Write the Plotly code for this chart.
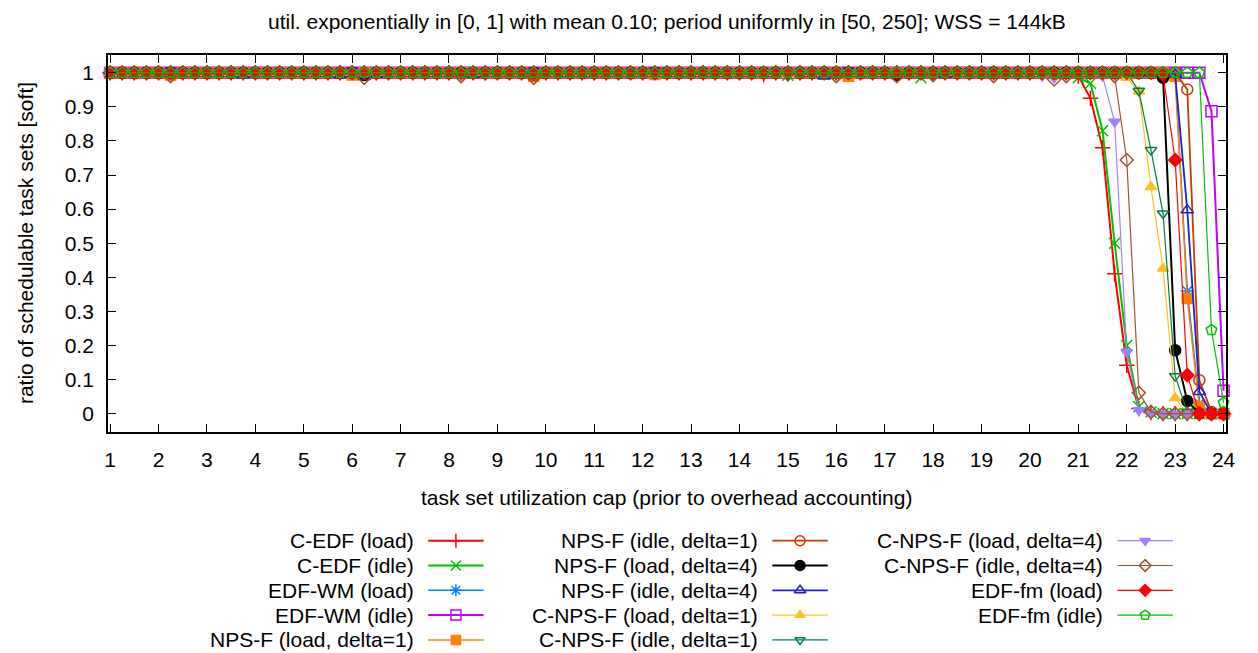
import plotly.graph_objects as go

W, H = 1258, 653

# ---------------- data ----------------
util_cap = [
    1.0, 1.25, 1.5, 1.75, 2.0, 2.25, 2.5, 2.75, 3.0, 3.25,
    3.5, 3.75, 4.0, 4.25, 4.5, 4.75, 5.0, 5.25, 5.5, 5.75,
    6.0, 6.25, 6.5, 6.75, 7.0, 7.25, 7.5, 7.75, 8.0, 8.25,
    8.5, 8.75, 9.0, 9.25, 9.5, 9.75, 10.0, 10.25, 10.5, 10.75,
    11.0, 11.25, 11.5, 11.75, 12.0, 12.25, 12.5, 12.75, 13.0, 13.25,
    13.5, 13.75, 14.0, 14.25, 14.5, 14.75, 15.0, 15.25, 15.5, 15.75,
    16.0, 16.25, 16.5, 16.75, 17.0, 17.25, 17.5, 17.75, 18.0, 18.25,
    18.5, 18.75, 19.0, 19.25, 19.5, 19.75, 20.0, 20.25, 20.5, 20.75,
    21.0, 21.25, 21.5, 21.75, 22.0, 22.25, 22.5, 22.75, 23.0, 23.25,
    23.5, 23.75, 24.0]

cedf_load = [
    1, 1, 1, 1, 1, 1, 1, 1, 1, 1,
    1, 1, 1, 1, 1, 1, 1, 1, 1, 1,
    1, 1, 1, 1, 1, 1, 1, 1, 1, 1,
    1, 1, 1, 1, 1, 1, 1, 1, 1, 1,
    1, 1, 1, 1, 1, 1, 1, 1, 1, 1,
    1, 1, 1, 1, 0.995, 1, 1, 1, 1, 1,
    1, 1, 1, 1, 1, 1, 1, 1, 1, 1,
    1, 1, 1, 1, 1, 1, 1, 1, 1, 1,
    0.99, 0.925, 0.78, 0.41, 0.142, 0.015, 0.003, 0, 0, 0,
    0, 0, 0]

cedf_idle = [
    1, 1, 1, 1, 1, 1, 1, 1, 1, 1,
    1, 1, 1, 1, 1, 1, 1, 1, 1, 1,
    1, 1, 1, 1, 1, 1, 1, 1, 1, 1,
    1, 1, 1, 1, 1, 1, 1, 1, 1, 1,
    1, 1, 1, 1, 1, 1, 1, 1, 1, 1,
    1, 1, 1, 1, 1, 1, 0.993, 1, 1, 1,
    1, 1, 1, 1, 1, 1, 1, 0.985, 1, 1,
    1, 1, 1, 1, 1, 1, 1, 1, 1, 1,
    0.985, 0.969, 0.83, 0.50, 0.20, 0.02, 0.005, 0, 0, 0,
    0, 0, 0]

edfwm_load = [
    1, 1, 1, 1, 1, 1, 1, 1, 1, 1,
    1, 1, 1, 1, 1, 1, 1, 1, 1, 1,
    1, 1, 1, 1, 1, 1, 1, 1, 1, 1,
    1, 1, 1, 1, 1, 1, 1, 1, 1, 1,
    1, 1, 1, 1, 1, 1, 1, 1, 1, 1,
    1, 1, 1, 1, 1, 1, 1, 1, 1, 1,
    1, 1, 1, 1, 1, 1, 1, 1, 1, 1,
    1, 1, 1, 1, 1, 1, 1, 1, 1, 1,
    1, 1, 1, 1, 1, 1, 1, 1, 0.995, 0.36,
    0.03, 0, 0]

edfwm_idle = [
    1, 1, 1, 1, 1, 1, 1, 1, 1, 1,
    1, 1, 1, 1, 1, 1, 1, 1, 1, 1,
    1, 1, 1, 1, 1, 1, 1, 1, 1, 1,
    1, 1, 1, 1, 1, 1, 1, 1, 1, 1,
    1, 1, 1, 1, 1, 1, 1, 1, 1, 1,
    1, 1, 1, 1, 1, 1, 1, 1, 1, 1,
    1, 1, 1, 1, 1, 1, 1, 1, 1, 1,
    1, 1, 1, 1, 1, 1, 1, 1, 1, 1,
    1, 1, 1, 1, 1, 1, 1, 1, 1, 1,
    1, 0.887, 0.067]

npsf_load_d1 = [
    1, 1, 1, 1, 1, 0.993, 1, 1, 1, 1,
    1, 1, 1, 1, 1, 1, 1, 1, 1, 1,
    0.993, 1, 1, 1, 1, 1, 1, 1, 1, 1,
    1, 1, 1, 1, 1, 0.99, 1, 1, 1, 1,
    1, 1, 1, 1, 1, 0.995, 1, 1, 1, 1,
    1, 1, 1, 1, 1, 1, 1, 1, 1, 1,
    1, 0.99, 1, 1, 1, 1, 1, 1, 1, 1,
    1, 1, 1, 1, 1, 1, 1, 1, 1, 1,
    1, 1, 1, 1, 1, 1, 1, 1, 0.99, 0.338,
    0.02, 0, 0]

npsf_idle_d1 = [
    1, 1, 1, 1, 1, 1, 1, 1, 1, 1,
    1, 1, 1, 1, 1, 1, 1, 1, 1, 1,
    1, 1, 1, 1, 1, 1, 1, 1, 1, 1,
    1, 1, 1, 1, 1, 0.993, 1, 1, 1, 1,
    1, 1, 1, 1, 1, 1, 1, 1, 1, 1,
    1, 1, 1, 1, 1, 1, 1, 1, 1, 1,
    1, 1, 1, 1, 1, 1, 1, 1, 1, 1,
    1, 1, 1, 1, 1, 1, 1, 1, 1, 1,
    1, 1, 1, 1, 1, 1, 1, 1, 1, 0.951,
    0.098, 0.005, 0]

npsf_load_d4 = [
    1, 1, 1, 1, 1, 1, 1, 1, 1, 1,
    1, 1, 1, 1, 1, 1, 1, 1, 1, 1,
    1, 0.993, 1, 1, 1, 1, 1, 1, 1, 1,
    1, 1, 1, 1, 1, 1, 1, 1, 1, 1,
    1, 1, 1, 1, 1, 1, 1, 1, 1, 1,
    1, 1, 1, 1, 1, 1, 1, 1, 1, 1,
    1, 1, 1, 1, 1, 0.993, 1, 1, 1, 1,
    1, 1, 1, 1, 1, 1, 1, 1, 1, 1,
    1, 1, 1, 1, 1, 1, 1, 0.985, 0.186, 0.037,
    0, 0, 0]

npsf_idle_d4 = [
    1, 1, 1, 1, 1, 1, 1, 1, 1, 1,
    1, 0.993, 1, 1, 1, 1, 1, 1, 1, 0.993,
    1, 0.988, 0.995, 1, 1, 1, 1, 1, 1, 1,
    0.995, 1, 1, 1, 1, 1, 1, 1, 1, 1,
    1, 1, 1, 1, 1, 1, 1, 1, 1, 1,
    1, 1, 1, 1, 1, 1, 1, 1, 1, 0.99,
    1, 1, 1, 1, 1, 1, 1, 1, 1, 0.995,
    1, 1, 1, 1, 1, 1, 1, 1, 1, 1,
    1, 1, 1, 1, 1, 1, 1, 1, 0.995, 0.597,
    0.064, 0, 0]

cnpsf_load_d1 = [
    1, 1, 1, 1, 1, 1, 1, 1, 1, 1,
    1, 1, 1, 1, 1, 1, 1, 1, 1, 1,
    1, 1, 1, 1, 1, 1, 1, 1, 1, 1,
    1, 1, 1, 1, 1, 1, 1, 1, 1, 1,
    1, 1, 1, 1, 1, 1, 1, 1, 1, 1,
    1, 1, 1, 1, 1, 1, 0.995, 1, 1, 1,
    1, 1, 1, 1, 1, 1, 1, 1, 1, 1,
    1, 1, 1, 1, 1, 1, 1, 1, 1, 1,
    1, 1, 1, 1, 0.985, 0.945, 0.665, 0.426, 0.045, 0,
    0, 0, 0]

cnpsf_idle_d1 = [
    1, 1, 1, 1, 1, 1, 1, 1, 1, 1,
    1, 1, 1, 1, 1, 1, 1, 1, 1, 1,
    1, 1, 1, 1, 1, 1, 1, 1, 1, 1,
    1, 1, 1, 1, 1, 1, 1, 1, 1, 1,
    1, 1, 1, 1, 1, 1, 1, 1, 1, 1,
    1, 1, 1, 1, 1, 1, 0.99, 1, 1, 1,
    1, 1, 1, 1, 1, 1, 1, 1, 1, 1,
    1, 1, 1, 1, 1, 1, 1, 1, 1, 1,
    1, 1, 1, 1, 1, 0.947, 0.773, 0.587, 0.11, 0.005,
    0, 0, 0]

cnpsf_load_d4 = [
    1, 1, 1, 1, 1, 1, 1, 1, 1, 1,
    1, 1, 1, 1, 1, 1, 0.995, 1, 1, 1,
    1, 1, 1, 1, 1, 1, 1, 1, 1, 0.993,
    1, 0.993, 1, 1, 1, 1, 1, 1, 1, 1,
    0.993, 1, 1, 1, 1, 1, 1, 1, 1, 1,
    1, 1, 1, 1, 1, 1, 1, 1, 1, 1,
    1, 1, 1, 0.995, 1, 1, 0.995, 1, 1, 1,
    1, 1, 1, 1, 1, 1, 1, 0.99, 0.985, 1,
    1, 1, 0.99, 0.856, 0.181, 0.01, 0, 0, 0, 0,
    0, 0, 0]

cnpsf_idle_d4 = [
    1, 1, 1, 1, 1, 0.99, 1, 1, 1, 1,
    1, 1, 1, 1, 1, 1, 1, 1, 1, 1,
    1, 0.985, 1, 1, 1, 1, 1, 1, 1, 0.99,
    1, 1, 1, 1, 1, 0.985, 1, 1, 1, 1,
    1, 1, 1, 1, 1, 1, 1, 1, 1, 1,
    1, 1, 1, 1, 1, 1, 1, 1, 1, 1,
    0.99, 1, 1, 1, 1, 0.99, 1, 1, 0.993, 1,
    1, 1, 1, 0.99, 1, 1, 1, 1, 0.98, 0.99,
    1, 1, 1, 0.99, 0.744, 0.061, 0.005, 0, 0, 0,
    0, 0, 0]

edffm_load = [
    1, 1, 1, 1, 1, 1, 1, 1, 1, 1,
    1, 1, 1, 1, 1, 1, 1, 1, 1, 1,
    1, 1, 1, 1, 1, 1, 1, 1, 1, 1,
    1, 1, 1, 1, 1, 1, 1, 1, 1, 1,
    1, 1, 1, 1, 1, 1, 1, 1, 1, 1,
    1, 1, 1, 1, 1, 1, 1, 1, 1, 1,
    1, 1, 1, 1, 1, 1, 1, 1, 1, 1,
    1, 1, 1, 1, 1, 1, 1, 1, 1, 1,
    1, 1, 1, 1, 1, 1, 1, 0.995, 0.744, 0.113,
    0, 0, 0]

edffm_idle = [
    1, 1, 1, 1, 1, 1, 1, 1, 1, 1,
    1, 1, 1, 1, 1, 1, 1, 1, 1, 1,
    1, 1, 1, 1, 1, 1, 1, 1, 1, 1,
    1, 1, 1, 1, 1, 1, 1, 1, 1, 1,
    1, 1, 1, 1, 1, 1, 1, 1, 1, 1,
    1, 1, 1, 1, 1, 1, 1, 1, 1, 1,
    1, 1, 1, 1, 1, 1, 1, 1, 1, 1,
    1, 1, 1, 1, 1, 1, 1, 1, 1, 1,
    1, 1, 1, 1, 1, 1, 1, 1, 1, 1,
    1, 0.245, 0.032]

series_names = [
    "C-EDF (load)", "C-EDF (idle)", "EDF-WM (load)", "EDF-WM (idle)",
    "NPS-F (load, delta=1)", "NPS-F (idle, delta=1)", "NPS-F (load, delta=4)",
    "NPS-F (idle, delta=4)", "C-NPS-F (load, delta=1)", "C-NPS-F (idle, delta=1)",
    "C-NPS-F (load, delta=4)", "C-NPS-F (idle, delta=4)", "EDF-fm (load)", "EDF-fm (idle)",
]
series_values = [
    cedf_load, cedf_idle, edfwm_load, edfwm_idle,
    npsf_load_d1, npsf_idle_d1, npsf_load_d4, npsf_idle_d4,
    cnpsf_load_d1, cnpsf_idle_d1, cnpsf_load_d4, cnpsf_idle_d4,
    edffm_load, edffm_idle,
]

y_ticks = [0, 0.1, 0.2, 0.3, 0.4, 0.5, 0.6, 0.7, 0.8, 0.9, 1]
x_ticks = list(range(1, 25))

# ---------------- styles ----------------
colors = ["#FF0000", "#00C000", "#0080FF", "#C000FF", "#FF8000", "#C04000", "#000000",
          "#2020C8", "#FFC020", "#008040", "#A080FF", "#A0522D", "#FF0000", "#00C000"]
symbols = ["cross-thin-open", "x-thin-open", "asterisk-open", "square-open", "square",
           "circle-open", "circle", "triangle-up-open", "triangle-up", "triangle-down-open",
           "triangle-down", "diamond-open", "diamond", "pentagon-open"]
msizes = [11, 11, 11, 11, 10, 11, 11, 11, 10, 10, 10, 10, 10, 11]
lwidths = [2, 2, 1.5, 2, 1.5, 1.8, 2, 1.8, 1.2, 1.2, 1.2, 1.2, 1.2, 1.2]

FONT = "Liberation Sans, Arial, sans-serif"
FS = 21

# plot area in pixels
PL, PR, PT, PB = 105, 1235.5, 55, 431.7

fig = go.Figure()
for name, vals, c, s, ms, lw in zip(series_names, series_values, colors, symbols, msizes, lwidths):
    fig.add_trace(go.Scatter(
        x=util_cap, y=vals, name=name, mode="lines+markers",
        line=dict(color=c, width=lw),
        marker=dict(symbol=s, size=ms, color=c, line=dict(color=c, width=1.5)),
        showlegend=False, cliponaxis=False,
    ))

# ---------------- manual gnuplot-style key ----------------
col_text_right = [417, 764, 1113]
col_line = [(429, 485), (777, 833), (1126, 1182)]
row_y = [540.7, 565.5, 590.3, 615.1, 639.9]
entries_per_col = [5, 5, 4]

idx = 0
annotations = []
for ci, n in enumerate(entries_per_col):
    for ri in range(n):
        name = series_names[idx]
        c, s, ms, lw = colors[idx], symbols[idx], msizes[idx], lwidths[idx]
        y = row_y[ri]
        x0, x1 = col_line[ci]
        fig.add_trace(go.Scatter(
            x=[x0, x1], y=[y, y], mode="lines", line=dict(color=c, width=lw),
            xaxis="x2", yaxis="y2", showlegend=False, hoverinfo="skip", cliponaxis=False))
        fig.add_trace(go.Scatter(
            x=[(x0 + x1) / 2], y=[y], mode="markers",
            marker=dict(symbol=s, size=ms - 1, color=c, line=dict(color=c, width=1.5)),
            xaxis="x2", yaxis="y2", showlegend=False, hoverinfo="skip", cliponaxis=False))
        annotations.append(dict(
            x=col_text_right[ci], y=y, xref="x2", yref="y2", text=name, showarrow=False,
            xanchor="right", yanchor="middle", font=dict(family=FONT, size=FS, color="black")))
        idx += 1

annotations.append(dict(
    x=(PL + PR) / 2, y=21, xref="x2", yref="y2",
    text="util. exponentially in [0, 1] with mean 0.10; period uniformly in [50, 250]; WSS = 144kB",
    showarrow=False, xanchor="center", yanchor="middle", font=dict(family=FONT, size=FS, color="black")))
annotations.append(dict(
    x=(PL + PR) / 2, y=497, xref="x2", yref="y2",
    text="task set utilization cap (prior to overhead accounting)",
    showarrow=False, xanchor="center", yanchor="middle", font=dict(family=FONT, size=FS, color="black")))
annotations.append(dict(
    x=22, y=(PT + PB) / 2, xref="x2", yref="y2",
    text="ratio of schedulable task sets [soft]", textangle=-90,
    showarrow=False, xanchor="center", yanchor="middle", font=dict(family=FONT, size=FS, color="black")))

axis_common = dict(
    showline=True, linecolor="black", linewidth=1.5, mirror="ticks",
    ticks="inside", ticklen=8, tickwidth=1, tickcolor="black",
    showgrid=False, zeroline=False,
    tickfont=dict(family=FONT, size=FS, color="black"),
)

fig.update_layout(
    width=W, height=H,
    margin=dict(l=0, r=0, t=0, b=0),
    paper_bgcolor="white", plot_bgcolor="rgba(0,0,0,0)",
    showlegend=False,
    xaxis=dict(domain=[PL / W, PR / W], range=[0.953, 24.045],
               tickvals=x_ticks, ticklabelstandoff=8, **axis_common),
    yaxis=dict(domain=[1 - PB / H, 1 - PT / H], range=[-0.053, 1.052],
               tickvals=y_ticks, ticktext=[("%g" % v) for v in y_ticks],
               ticklabelstandoff=8, **axis_common),
    xaxis2=dict(domain=[0, 1], range=[0, W], visible=False, anchor="y2", fixedrange=True),
    yaxis2=dict(domain=[0, 1], range=[H, 0], visible=False, anchor="x2", fixedrange=True),
    annotations=annotations,
)

fig.write_html("out.html", config={"displayModeBar": False},
               post_script="document.body.style.margin='0';document.body.style.overflow='hidden';")
